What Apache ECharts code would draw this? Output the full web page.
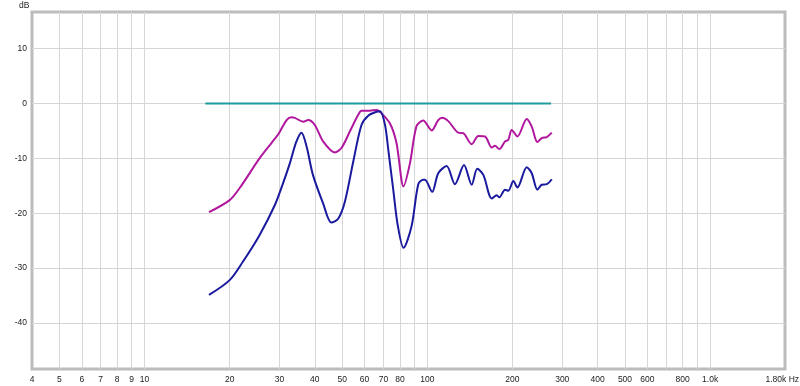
<!DOCTYPE html>
<html><head><meta charset="utf-8">
<script src="https://cdn.jsdelivr.net/npm/echarts@6/dist/echarts.min.js"></script>
<style>html,body{margin:0;padding:0;background:#fff}#c{width:800px;height:386px}</style>
</head><body><div id="c"></div>
<script>
// Frequencies (Hz) and levels (dB)
const refFreq = [16.4, 274];
const refDb = [0, 0];

const magFreq = [16.9,20.0,21.7,25.5,28.1,29.8,31.8,33.1,34.0,36.4,37.9,40.0,42.8,47.1,49.7,53.2,56.9,58.5,62.6,66.1,68.0,73.7,77.8,82.4,86.8,91.6,96.7,103.6,109.3,113.0,118.6,128.7,134.0,143.5,151.5,160.0,169.0,173.5,179.7,188.3,193.4,198.8,208.2,224.7,234.0,245.0,253.9,264.5,275.5];
const magDb = [-19.8,-17.6,-15.4,-10.0,-7.2,-5.5,-3.0,-2.5,-2.6,-3.3,-3.0,-3.9,-6.9,-8.9,-8.1,-5.1,-2.1,-1.3,-1.3,-1.15,-1.5,-3.6,-7.2,-15.1,-10.9,-4.1,-3.1,-4.9,-3.0,-2.6,-3.2,-5.3,-5.4,-7.4,-5.9,-6.0,-8.0,-7.7,-8.3,-6.9,-6.6,-4.8,-6.0,-2.8,-4.2,-7.0,-6.3,-6.1,-5.3];

const blueFreq = [16.9,20.0,22.3,25.5,28.9,30.9,32.6,34.4,35.9,37.4,39.4,42.8,45.8,48.4,51.1,54.7,58.5,61.8,66.1,68.0,70.8,73.0,75.7,78.5,82.4,88.0,92.9,96.7,98.1,104.0,109.3,117.0,125.2,134.8,143.5,150.2,157.8,169.0,176.0,179.7,188.3,193.4,201.5,208.2,224.7,234.0,245.0,253.9,264.5,275.5];
const blueDb = [-34.9,-32.2,-28.8,-24.0,-18.5,-14.5,-11.0,-7.0,-5.3,-7.8,-13.0,-18.2,-21.7,-21.0,-17.9,-10.6,-3.9,-2.2,-1.5,-1.4,-3.8,-9.0,-15.5,-22.0,-26.3,-22.3,-14.7,-13.9,-13.9,-16.1,-12.7,-11.4,-14.7,-11.2,-14.8,-11.9,-13.0,-17.3,-16.7,-17.1,-15.7,-15.9,-14.1,-15.3,-11.6,-12.7,-15.7,-14.8,-14.7,-13.8];

const xGrid = [5,6,7,8,9,10,20,30,40,50,60,70,80,90,100,200,300,400,500,600,700,800,900,1000];
const xLabels = [4,5,6,7,8,9,10,20,30,40,50,60,70,80,100,200,300,400,500,600,800,1000,1800];
const yTicks = [-40,-30,-20,-10,0,10];

const zip = (a,b) => a.map((v,i)=>[v,b[i]]);
const chart = echarts.init(document.getElementById('c'));
const fmtX = v => {
  if (Math.abs(v-1800) < 1) return '1.80k Hz';
  if (Math.abs(v-1000) < 1) return '1.0k';
  return String(Math.round(v));
};
const FONT = 'Liberation Sans';
chart.setOption({
  animation: false,
  grid: {left: 32, right: 15, top: 12, bottom: 17, show: true, borderColor: '#bcbcbc', borderWidth: 3, backgroundColor: '#fff', outerBoundsMode: 'none', containLabel: false},
  xAxis: {
    type: 'log', logBase: 10, min: 4, max: 1840,
    axisLine: {show: false},
    axisTick: {show: false, customValues: xGrid},
    splitLine: {show: true, lineStyle: {color: '#d6d6d6', width: 1}},
    minorSplitLine: {show: false},
    axisLabel: {customValues: xLabels, formatter: fmtX, color: '#222', fontSize: 8.5, fontFamily: FONT, margin: 6, showMinLabel: true, showMaxLabel: true, hideOverlap: false}
  },
  yAxis: {
    type: 'value', min: -48.4, max: 16.7,
    axisLine: {show: false},
    axisTick: {show: false, customValues: yTicks},
    splitLine: {show: true, lineStyle: {color: '#d6d6d6', width: 1}},
    axisLabel: {customValues: yTicks, color: '#222', fontSize: 8.5, fontFamily: FONT, margin: 5}
  },
  graphic: [{type: 'text', left: 19, top: 1, style: {text: 'dB', fill: '#222', fontSize: 8.5, fontFamily: FONT}}],
  series: [
    {type: 'line', data: zip(refFreq, refDb), showSymbol: false, lineStyle: {color: '#1f9c9c', width: 2}, z: 3},
    {type: 'line', data: zip(magFreq, magDb), smooth: 0.3, showSymbol: false, lineStyle: {color: '#b0169e', width: 2}, z: 4},
    {type: 'line', data: zip(blueFreq, blueDb), smooth: 0.3, showSymbol: false, lineStyle: {color: '#1a1a9e', width: 2}, z: 5}
  ]
});
</script></body></html>
